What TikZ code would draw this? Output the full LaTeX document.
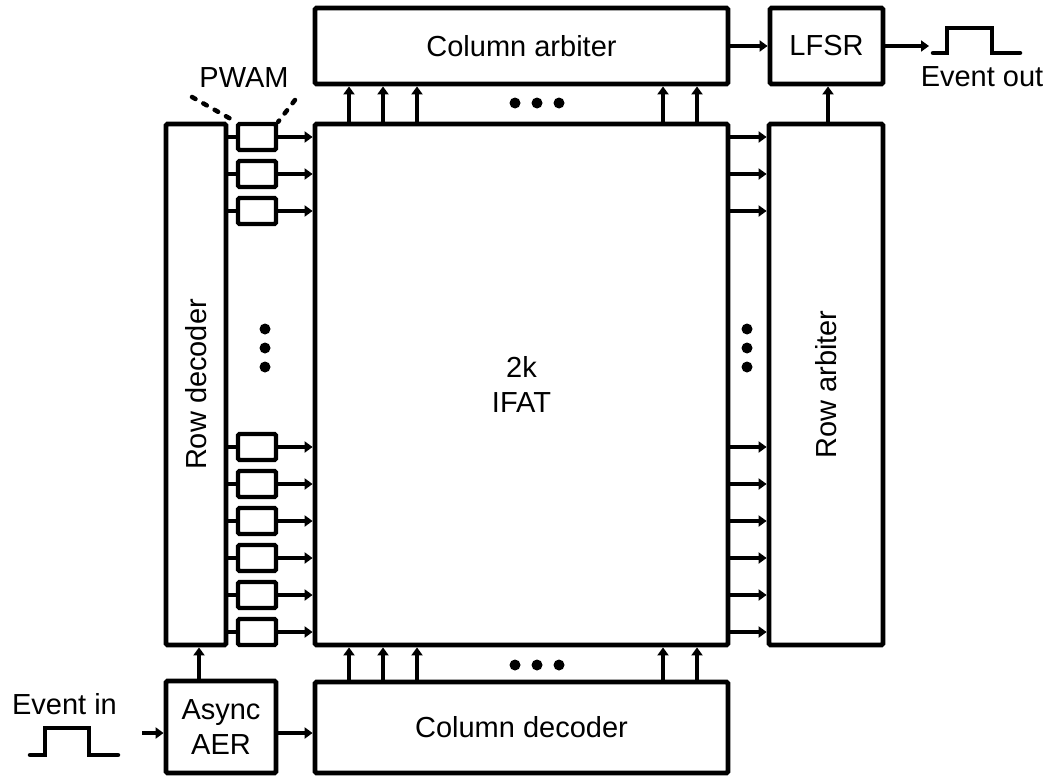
\documentclass[tikz,border=0pt]{standalone}
\usepackage{fontspec}
\setmainfont{Liberation Sans}
\usetikzlibrary{arrows.meta}
\begin{document}
\begin{tikzpicture}[x=1pt,y=-1pt,
  blk/.style={draw, line width=4.8pt, rounded corners=1.5pt, inner sep=0pt, font=\fontsize{29}{35}\selectfont, align=center},
  pw/.style={draw, line width=4.3pt, rounded corners=1.5pt, minimum width=38pt, minimum height=26pt, inner sep=0pt},
  arr/.style={line width=4pt, -{Triangle[length=8pt,width=11pt]}},
  wire/.style={line width=4pt},
  lbl/.style={font=\fontsize{29}{35}\selectfont, inner sep=0pt},
  dotn/.style={fill, circle, minimum size=11pt, inner sep=0pt},
  sig/.style={line width=4.5pt, line cap=round},
  dots/.style={line width=4.5pt, dash pattern=on 4pt off 9pt, line cap=round}
]
\useasboundingbox (0,0) rectangle (1051,776);

\node[blk, minimum width=413pt, minimum height=76pt] (colarb) at (521.5,46) {Column arbiter};
\node[blk, minimum width=113pt, minimum height=76pt] (lfsr) at (826.5,46) {LFSR};
\node[blk, minimum width=413pt, minimum height=521pt] (ifat) at (521.5,384.5) {2k\\IFAT};
\node[blk, minimum width=60pt, minimum height=521pt] (rowdec) at (196,384.5) {};
\node[lbl, rotate=90] (rowdectxt) at (rowdec.center) {Row decoder};
\node[blk, minimum width=114pt, minimum height=521pt] (rowarb) at (826,384.5) {};
\node[lbl, rotate=90] (rowarbtxt) at (rowarb.center) {Row arbiter};
\node[blk, minimum width=413pt, minimum height=91pt] (coldec) at (521.5,727.5) {Column decoder};
\node[blk, minimum width=110pt, minimum height=92pt] (aer) at (221,727) {Async\\AER};

% PWAM cells and row lines
\foreach \y [count=\i] in {137,174,211,447,484,521,558,595,632} {
  \node[pw] (p\i) at (257,\y) {};
  \draw[wire] (rowdec.east |- p\i.west) -- (p\i.west);
  \draw[arr] (p\i.east) -- (p\i.east -| ifat.west);
  \draw[arr] (ifat.east |- p\i.east) -- (rowarb.west |- p\i.east);
}

% column lines
\foreach \x [count=\j] in {349,383,417,663,697} {
  \coordinate (c\j) at (\x,0);
  \draw[arr] (ifat.north -| c\j) -- (colarb.south -| c\j);
  \draw[arr] (coldec.north -| c\j) -- (ifat.south -| c\j);
}

% ellipsis dots
\foreach \x [count=\k] in {515,537,559} {
  \node[dotn] (dt\k) at (\x,103) {};
  \node[dotn] (db\k) at (\x,665) {};
}
\foreach \y [count=\k] in {329,348,367} {
  \node[dotn] (dl\k) at (265,\y) {};
  \node[dotn] (dr\k) at (747,\y) {};
}

% PWAM label
\node[lbl] (pwam) at (244,78) {PWAM};
\coordinate (pwl) at (192,97);
\coordinate (pwr) at (295,100);
\draw[dots] (pwl) -- (p1.north west);
\draw[dots] (pwr) -- (p1.north east);

% other connections
\draw[arr] (colarb.east) -- (lfsr.west);
\coordinate (ra) at (828,0);
\draw[arr] (rowarb.north -| ra) -- (lfsr.south -| ra);
\coordinate (ad) at (199,0);
\draw[arr] (aer.north -| ad) -- (rowdec.south -| ad);
\coordinate (ein) at (142,733);
\draw[arr] (ein) -- (ein -| aer.west);
\draw[arr] (aer.east |- ein) -- (coldec.west |- ein);
\coordinate (eout) at (929,46);
\draw[arr] (lfsr.east) -- (eout);

% pulses
\draw[sig] (933,53) -- (947,53) -- (947,28) -- (992,28) -- (992,53) -- (1020,53);
\draw[sig] (30,755) -- (45,755) -- (45,728) -- (89,728) -- (89,755) -- (118,755);
\node[lbl] (evin) at (64.5,704) {Event in};
\node[lbl] (evout) at (982,77) {Event out};
\end{tikzpicture}
\end{document}
